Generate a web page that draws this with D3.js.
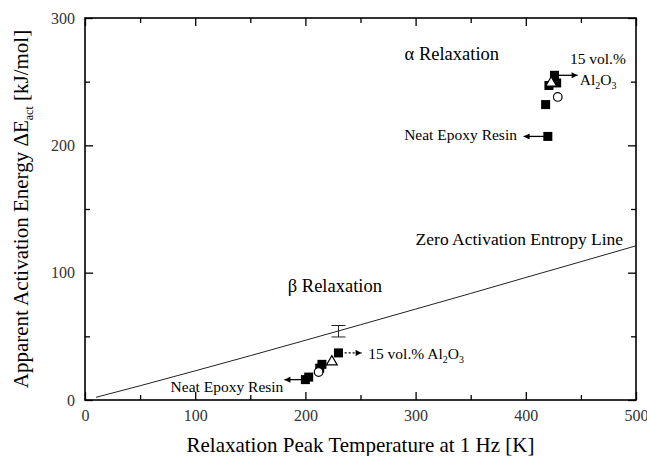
<!DOCTYPE html>
<html>
<head>
<meta charset="utf-8">
<title>Activation energy vs relaxation temperature</title>
<script src="https://d3js.org/d3.v7.min.js"></script>
<style>
body { margin: 0; background: #fff; }
text { font-family: "Liberation Serif", "Times New Roman", serif; fill: #000; }
</style>
</head>
<body>
<script>
var width = 647, height = 456;
var margin = {top: 18, right: 11, bottom: 56, left: 85};

// data: [temperature K, activation energy kJ/mol]
var alphaSquares = [[420, 207], [418, 232], [421, 247], [428, 249], [426, 255]];
var alphaCircles = [[429, 238]];
var alphaTriangles = [[423, 249]];
var betaSquares = [[200, 16], [203, 18], [213, 25], [215, 28], [230, 37]];
var betaCircles = [[212, 22]];
var betaTriangles = [[224, 30]];
var zeroLine = [[10, 2.1], [50, 11.2], [100, 22.9], [150, 34.8], [200, 46.9], [250, 59.1],
                [300, 71.4], [350, 83.7], [400, 96.2], [450, 108.6], [500, 121.1]];
var errorBar = [[230, 54, 4.5]];
var xTicks = [0, 100, 200, 300, 400, 500];
var xMinor = [50, 150, 250, 350, 450];
var yTicks = [0, 100, 200, 300];
var yMinor = [50, 150, 250];

var svg = d3.select("body").append("svg")
  .attr("width", width)
  .attr("height", height);

var x = d3.scaleLinear().domain([0, 500]).range([margin.left, width - margin.right]);
var y = d3.scaleLinear().domain([0, 300]).range([height - margin.bottom, margin.top]);

// axes, ticks pointing inward on all four sides
var none = function() { return ""; };
var axes = [
  [d3.axisBottom, x, "translate(0," + y(0) + ")", xTicks, xMinor, d3.format("d")],
  [d3.axisTop, x, "translate(0," + y(300) + ")", xTicks, xMinor, none],
  [d3.axisLeft, y, "translate(" + x(0) + ",0)", yTicks, yMinor, d3.format("d")],
  [d3.axisRight, y, "translate(" + x(500) + ",0)", yTicks, yMinor, none]
];
axes.forEach(function(a) {
  var g = svg.append("g").attr("transform", a[2]);
  g.append("g").call(a[0](a[1]).tickValues(a[3]).tickSizeInner(-8).tickSizeOuter(0).tickPadding(10).tickFormat(a[5]));
  g.append("g").call(a[0](a[1]).tickValues(a[4]).tickSizeInner(-5).tickSizeOuter(0).tickFormat(none));
});
svg.selectAll(".domain").remove();
svg.selectAll(".tick line").attr("stroke", "#000").attr("stroke-width", 1.3);
svg.selectAll(".tick text")
  .style("font-family", "'Liberation Serif', serif")
  .style("font-size", "16px")
  .style("fill", "#333");

svg.append("rect")
  .attr("x", x(0)).attr("y", y(300))
  .attr("width", x(500) - x(0)).attr("height", y(0) - y(300))
  .attr("fill", "none").attr("stroke", "#000").attr("stroke-width", 1.6);

// axis titles
svg.append("text")
  .attr("x", (x(0) + x(500)) / 2).attr("y", 452)
  .attr("text-anchor", "middle").style("font-size", "21px")
  .text("Relaxation Peak Temperature at 1 Hz [K]");

var yt = svg.append("text")
  .attr("transform", "translate(28," + (y(0) + y(300)) / 2 + ") rotate(-90)")
  .attr("text-anchor", "middle").style("font-size", "21px");
yt.append("tspan").text("Apparent Activation Energy \u0394E");
yt.append("tspan").attr("dy", 5).style("font-size", "12px").text("act");
yt.append("tspan").attr("dy", -5).text(" [kJ/mol]");

// zero activation entropy line
svg.append("path")
  .datum(zeroLine)
  .attr("fill", "none").attr("stroke", "#222").attr("stroke-width", 1)
  .attr("d", d3.line().x(function(d) { return x(d[0]); }).y(function(d) { return y(d[1]); }));

// error bar on the line
var eb = svg.selectAll(".eb").data(errorBar).enter().append("g").attr("stroke", "#222").attr("stroke-width", 1);
eb.append("line")
  .attr("x1", function(d) { return x(d[0]); }).attr("x2", function(d) { return x(d[0]); })
  .attr("y1", function(d) { return y(d[1] - d[2]); }).attr("y2", function(d) { return y(d[1] + d[2]); });
[-1, 1].forEach(function(s) {
  eb.append("line")
    .attr("x1", function(d) { return x(d[0]) - 7; }).attr("x2", function(d) { return x(d[0]) + 7; })
    .attr("y1", function(d) { return y(d[1] + s * d[2]); }).attr("y2", function(d) { return y(d[1] + s * d[2]); });
});

// arrowhead
svg.append("defs").append("marker")
  .attr("id", "head").attr("viewBox", "0 0 10 10")
  .attr("refX", 10).attr("refY", 5)
  .attr("markerWidth", 9).attr("markerHeight", 6)
  .attr("markerUnits", "userSpaceOnUse")
  .attr("orient", "auto")
  .append("path").attr("d", "M0,0L10,5L0,10Z").attr("fill", "#000");

function arrow(t1, t2, e, dashed) {
  svg.append("line")
    .attr("x1", x(t1)).attr("x2", x(t2)).attr("y1", y(e)).attr("y2", y(e))
    .attr("stroke", "#000").attr("stroke-width", 1.3)
    .attr("stroke-dasharray", dashed ? "2,2" : null)
    .attr("marker-end", "url(#head)");
}
arrow(428, 447, 255, false);
arrow(418, 398, 207, false);
arrow(232, 251, 37, true);
arrow(198, 181, 16, false);

// markers
var s = 9;
function squares(data) {
  svg.append("g").selectAll("rect").data(data).enter().append("rect")
    .attr("x", function(d) { return x(d[0]) - s / 2; })
    .attr("y", function(d) { return y(d[1]) - s / 2; })
    .attr("width", s).attr("height", s).attr("fill", "#000");
}
function circles(data) {
  svg.append("g").selectAll("circle").data(data).enter().append("circle")
    .attr("cx", function(d) { return x(d[0]); })
    .attr("cy", function(d) { return y(d[1]); })
    .attr("r", 4.3).attr("fill", "#fff").attr("stroke", "#000").attr("stroke-width", 1.2);
}
function triangles(data) {
  svg.append("g").selectAll("path").data(data).enter().append("path")
    .attr("transform", function(d) { return "translate(" + x(d[0]) + "," + y(d[1]) + ")"; })
    .attr("d", d3.symbol().type(d3.symbolTriangle).size(50))
    .attr("fill", "#fff").attr("stroke", "#000").attr("stroke-width", 1.2);
}
squares(alphaSquares);
squares(betaSquares);
circles(alphaCircles);
circles(betaCircles);
triangles(alphaTriangles);
triangles(betaTriangles);

// annotations
function label(t, e, txt, size, anchor) {
  return svg.append("text").attr("x", x(t)).attr("y", y(e))
    .attr("text-anchor", anchor || "start").style("font-size", size + "px").text(txt);
}
label(290, 267, "\u03b1 Relaxation", 18.5);
label(184, 85, "\u03b2 Relaxation", 18.5);
label(300, 121.5, "Zero Activation Entropy Line", 17.5);
label(392, 204, "Neat Epoxy Resin", 15.5, "end");
label(180, 6.5, "Neat Epoxy Resin", 15.5, "end");
label(440, 264, "15 vol.%", 15.5);

var al = label(449, 247, "Al", 15.5);
al.append("tspan").attr("dy", 4).style("font-size", "10px").text("2");
al.append("tspan").attr("dy", -4).text("O");
al.append("tspan").attr("dy", 4).style("font-size", "10px").text("3");

var low = label(257, 32, "15 vol.% Al", 15.5);
low.append("tspan").attr("dy", 4).style("font-size", "10px").text("2");
low.append("tspan").attr("dy", -4).text("O");
low.append("tspan").attr("dy", 4).style("font-size", "10px").text("3");
</script>
</body>
</html>
